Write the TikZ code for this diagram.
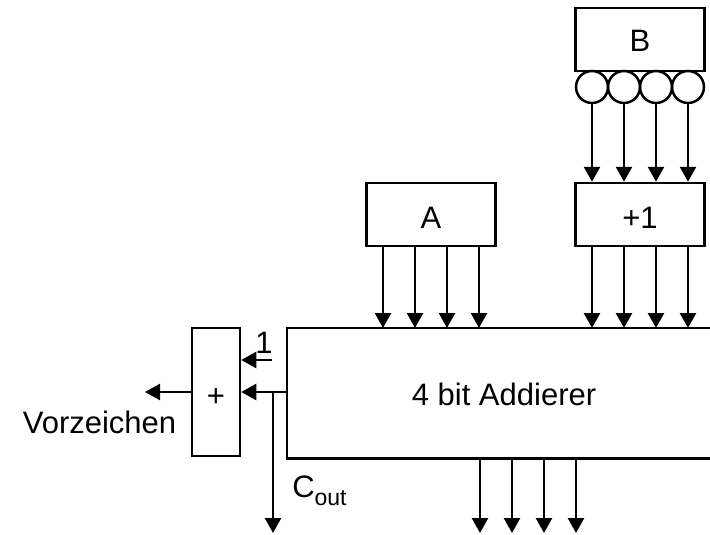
\documentclass[tikz,border=0pt]{standalone}
\usepackage{fontspec}
\setmainfont{Liberation Sans}
\usetikzlibrary{arrows.meta,calc}
\begin{document}
\begin{tikzpicture}[x=1pt,y=-1pt,line width=2.5pt,
  >={Triangle[length=15pt,width=16pt]},
  blk/.style={draw,minimum width=129pt,minimum height=63pt,inner sep=0pt},
  inv/.style={draw,circle,minimum size=32pt,inner sep=0pt},
  lbl/.style={font=\fontsize{31}{37}\selectfont,inner sep=0pt,anchor=base}]
\useasboundingbox (0,0) rectangle (710,535);
% blocks
\node[blk] (B) at (640,39.5) {};
\node[lbl] (Bt) at (640,52) {B};
\foreach \i/\dx in {1/-48,2/-16,3/16,4/48}
  \node[inv] (c\i) at (640+\dx,87) {};
\node[blk] (P1) at (640,214.5) {};
\node[lbl] (P1t) at (640,228) {+1};
\node[blk] (A) at (431,214.5) {};
\node[lbl] (At) at (431,228) {A};
\node[draw=none,minimum width=423pt,minimum height=128pt,inner sep=0pt,anchor=north west] (add) at (287,328) {};
\draw (add.north east) -- (add.north west) -- (add.south west) -- (add.south east);
\node[lbl] (addt) at (504,405) {4 bit Addierer};
\node[draw,minimum width=48pt,minimum height=128pt,inner sep=0pt] (plus) at (216,392) {};
\node[lbl] (plust) at (216,406) {+};
% arrows B -> +1
\foreach \i in {1,...,4}
  \draw[->] (c\i.south) -- (P1.north -| c\i.south);
% +1 -> adder
\foreach \i in {1,...,4}
  \draw[->] (P1.south -| c\i.south) -- (add.north -| c\i.south);
% A -> adder
\foreach \dx [count=\i] in {-48,-16,16,48}{
  \coordinate (ax\i) at (431+\dx,0);
  \draw[->] (A.south -| ax\i) -- (add.north -| ax\i);
}
% adder outputs
\foreach \x [count=\i] in {480,512,544,576}{
  \coordinate (o\i) at (\x,533);
  \draw[->] (add.south -| o\i) -- (o\i);
}
% carry
\coordinate (j) at (273,392);
\coordinate (coutend) at (273,533);
\draw[->] (add.west |- plus.east) -- (plus.east);
\draw[->] (j) -- (coutend);
\coordinate (one) at (272,360);
\draw[->] (one) -- (plus.east |- one);
\node[lbl] (onet) at (264,353) {1};
\coordinate (vz) at (145,392);
\draw[->] (plus.west) -- (vz);
\node[lbl] (vzt) at (99.5,433) {Vorzeichen};
\node[lbl,anchor=base west] (cout) at (291,497) {C\raisebox{-8pt}{\fontsize{23}{23}\selectfont out}};
\end{tikzpicture}
\end{document}
